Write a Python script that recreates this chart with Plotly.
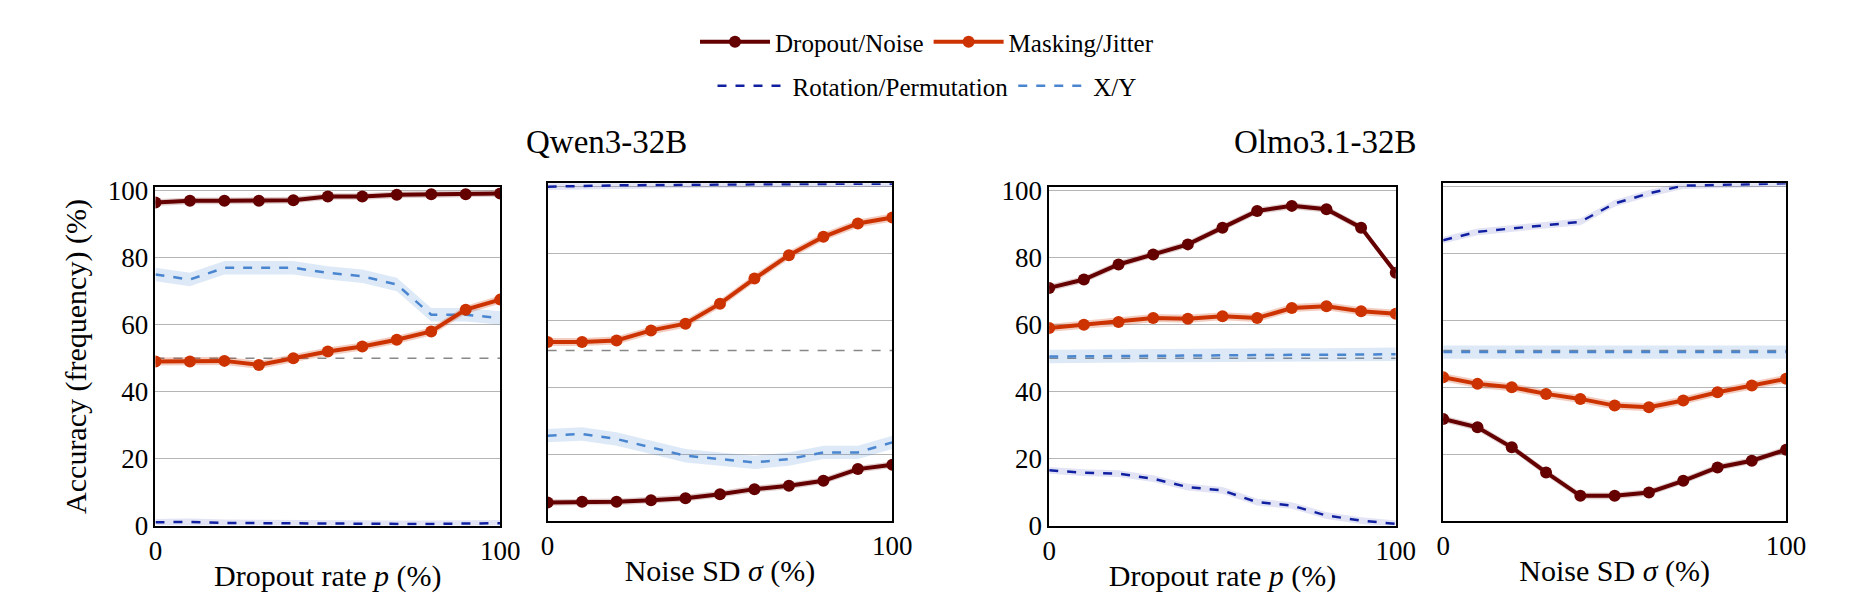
import plotly.graph_objects as go

x = [0, 10, 20, 30, 40, 50, 60, 70, 80, 90, 100]

q_drop_dn = [96.5, 97, 97, 97, 97.2, 98.3, 98.3, 98.8, 99, 99, 99.2]
q_drop_mj = [49, 49, 49.2, 48, 50, 52, 53.5, 55.5, 58, 64.5, 67.5]
q_drop_rot = [1, 1.1, 0.8, 0.7, 0.6, 0.5, 0.5, 0.5, 0.5, 0.6, 0.7]
q_drop_xy = [75, 73.5, 77, 77, 77, 75.5, 74.5, 72, 63, 63, 62]

q_noise_dn = [5.5, 5.7, 5.7, 6.2, 6.8, 8, 9.5, 10.5, 12, 15.5, 16.8]
q_noise_mj = [53.5, 53.5, 54, 57, 59, 65, 72.5, 79.5, 85, 89, 90.8]
q_noise_rot = [100, 100.3, 100.4, 100.5, 100.6, 100.7, 100.8, 100.8, 100.9, 100.9, 100.9]
q_noise_xy = [25.5, 26, 24.5, 22, 19.5, 18.5, 17.5, 18.5, 20.5, 20.5, 23.5]

o_drop_dn = [71, 73.5, 78, 81, 84, 89, 94, 95.5, 94.5, 89, 75.5]
o_drop_mj = [59, 60, 60.8, 62, 61.8, 62.5, 62, 65, 65.5, 64, 63.3]
o_drop_rot = [16.5, 15.8, 15.5, 14, 11.5, 10.5, 7, 6, 3, 1.5, 0.5]
o_drop_xy = [50.5, 50.6, 50.7, 50.8, 50.8, 50.9, 51, 51, 51, 51.1, 51.2]

o_noise_dn = [30.5, 28, 22, 14.5, 7.5, 7.5, 8.5, 12, 16, 18, 21.3]
o_noise_mj = [43, 41, 40, 38, 36.5, 34.5, 34, 36, 38.5, 40.5, 42.5]
o_noise_rot = [84, 86.5, 87.5, 88.5, 89.5, 95, 98, 100.3, 100.6, 100.8, 101]
o_noise_xy = [50.5] * 11

chance = [50, 51, 50, 51]

panels = [
    (q_drop_dn, q_drop_mj, q_drop_rot, q_drop_xy, chance[0], "Dropout rate <i>p</i> (%)"),
    (q_noise_dn, q_noise_mj, q_noise_rot, q_noise_xy, chance[1], "Noise SD <i>σ</i> (%)"),
    (o_drop_dn, o_drop_mj, o_drop_rot, o_drop_xy, chance[2], "Dropout rate <i>p</i> (%)"),
    (o_noise_dn, o_noise_mj, o_noise_rot, o_noise_xy, chance[3], "Noise SD <i>σ</i> (%)"),
]
domains = [(0.077, 0.266), (0.292, 0.481), (0.567, 0.757), (0.783, 0.971)]
ydomains = [(0.137, 0.713), (0.145, 0.72), (0.137, 0.713), (0.145, 0.72)]

C_DN = "#650000"
C_MJ = "#cc3300"
C_ROT = "#1020a0"
C_XY = "#4a86d0"
bands = {C_DN: "rgba(101,0,0,0.2)", C_MJ: "rgba(204,51,0,0.25)",
         C_ROT: "rgba(60,70,180,0.15)", C_XY: "rgba(74,134,208,0.18)"}
FONT = "Liberation Serif"

fig = go.Figure()
for i, (dn, mj, rot, xy, ch, xt) in enumerate(panels):
    xa = "x" if i == 0 else f"x{i+1}"
    ya = "y" if i == 0 else f"y{i+1}"
    first = i == 0
    fig.add_trace(go.Scatter(x=[0, 100], y=[ch, ch], mode="lines",
                             line=dict(color="#888888", width=1.5, dash="dash"),
                             xaxis=xa, yaxis=ya, showlegend=False, hoverinfo="skip"))
    for ys, col, name, dash, mk, bw, leg in [
        (xy, C_XY, "X/Y", "dash", False, 2.0, "legend2"),
        (rot, C_ROT, "Rotation/Permutation", "dash", False, 1.0, "legend2"),
        (mj, C_MJ, "Masking/Jitter", "solid", True, 1.2, "legend"),
        (dn, C_DN, "Dropout/Noise", "solid", True, 1.0, "legend"),
    ]:
        up = [v + bw for v in ys]
        lo = [v - bw for v in ys]
        fig.add_trace(go.Scatter(x=x + x[::-1], y=up + lo[::-1], fill="toself",
                                 fillcolor=bands[col], line=dict(width=0),
                                 xaxis=xa, yaxis=ya, showlegend=False, hoverinfo="skip"))
        fig.add_trace(go.Scatter(
            x=x, y=ys, name=name, legend=leg,
            mode="lines+markers" if mk else "lines",
            line=dict(color=col, width=4 if mk else 2.5, dash=dash),
            marker=dict(size=12, color=col),
            xaxis=xa, yaxis=ya, showlegend=first))
    d = domains[i]
    fig.layout[f"xaxis{'' if i == 0 else i+1}"] = dict(
        domain=d, range=[0, 100], tickvals=[0, 100], showgrid=False, zeroline=False,
        showline=True, mirror=True, linecolor="black", linewidth=1.5, ticks="",
        anchor=ya, title=dict(text=xt, font=dict(size=30, family=FONT, color="black"), standoff=0),
        tickfont=dict(size=27, family=FONT, color="black"))
    fig.layout[f"yaxis{'' if i == 0 else i+1}"] = dict(
        domain=ydomains[i], range=[0, 101], tickvals=[0, 20, 40, 60, 80, 100],
        showticklabels=(i in (0, 2)), showgrid=True, gridcolor="#b5b5b5", gridwidth=1.2,
        zeroline=False, showline=True, mirror=True, linecolor="black", linewidth=1.5,
        anchor=xa, tickfont=dict(size=27, family=FONT, color="black"),
        title=dict(text="Accuracy (frequency) (%)" if i == 0 else "",
                   font=dict(size=30, family=FONT, color="black"), standoff=12))

fig.update_layout(
    width=1851, height=613, paper_bgcolor="white", plot_bgcolor="white",
    margin=dict(l=0, r=0, t=0, b=0),
    font=dict(family=FONT, color="black"),
    legend=dict(orientation="h", x=0.5, xanchor="center", y=1.0, yanchor="top",
                font=dict(size=25, family=FONT), itemwidth=70, traceorder="reversed"),
    legend2=dict(orientation="h", x=0.5, xanchor="center", y=0.925, yanchor="top",
                 font=dict(size=25, family=FONT), itemwidth=70, traceorder="reversed"),
    annotations=[
        dict(text="Qwen3-32B", x=0.279, y=0.79, xref="paper", yref="paper",
             showarrow=False, font=dict(size=33, family=FONT), yanchor="middle"),
        dict(text="Olmo3.1-32B", x=0.769, y=0.79, xref="paper", yref="paper",
             showarrow=False, font=dict(size=33, family=FONT), yanchor="middle"),
    ],
)
fig.write_html("out.html")
